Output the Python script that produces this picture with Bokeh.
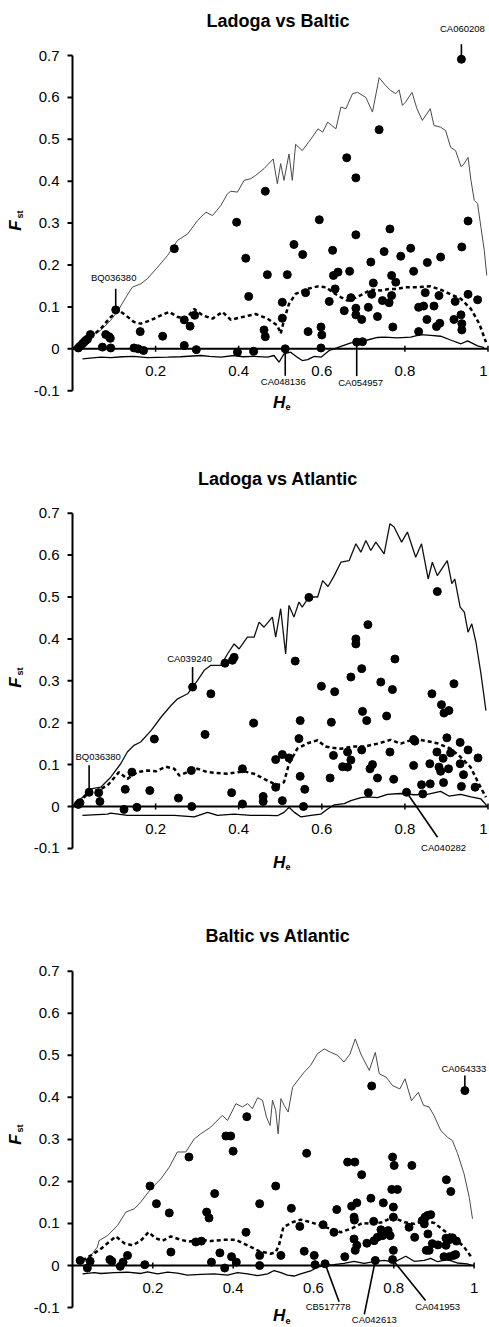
import math
from bokeh.plotting import figure
from bokeh.layouts import column
from bokeh.models import Range1d
from bokeh.core.properties import value
from bokeh.embed import file_html
from bokeh.resources import INLINE

FONT = "Liberation Sans"

TITLES = ["Ladoga vs Baltic", "Ladoga vs Atlantic", "Baltic vs Atlantic"]
Y_TICKS = [-0.1, 0.0, 0.1, 0.2, 0.3, 0.4, 0.5, 0.6, 0.7]
Y_TICK_LABELS = ["-0.1", "0", "0.1", "0.2", "0.3", "0.4", "0.5", "0.6", "0.7"]
X_TICKS = [0.2, 0.4, 0.6, 0.8, 1.0]
X_TICK_LABELS = ["0.2", "0.4", "0.6", "0.8", "1"]

# ---------------- Ladoga vs Baltic ----------------
lb_he = [0.014, 0.018, 0.024, 0.028, 0.032, 0.036, 0.043, 0.072, 0.080, 0.088, 0.091, 0.092,
         0.104, 0.148, 0.158, 0.163, 0.171, 0.217, 0.245, 0.269, 0.269, 0.283, 0.294, 0.298,
         0.395, 0.397, 0.417, 0.424, 0.436, 0.461, 0.464, 0.464, 0.469, 0.505, 0.505, 0.512,
         0.517, 0.533, 0.554, 0.561, 0.567, 0.594, 0.598, 0.600, 0.598, 0.618, 0.626, 0.628,
         0.632, 0.639, 0.654, 0.660, 0.667, 0.670, 0.682, 0.682, 0.682, 0.682, 0.684, 0.696,
         0.698, 0.712, 0.718, 0.720, 0.724, 0.734, 0.738, 0.746, 0.750, 0.762, 0.764, 0.768,
         0.768, 0.771, 0.778, 0.790, 0.814, 0.821, 0.833, 0.833, 0.845, 0.849, 0.853, 0.854,
         0.870, 0.876, 0.882, 0.884, 0.886, 0.918, 0.921, 0.935, 0.936, 0.937, 0.937, 0.937,
         0.952, 0.952, 0.975]
lb_fst = [0.002, 0.006, 0.012, 0.016, 0.020, 0.023, 0.034, 0.004, 0.034, 0.029, 0.025, 0.002,
          0.093, 0.002, 0.000, 0.041, -0.004, 0.030, 0.239, 0.008, 0.069, 0.054, 0.080, -0.002,
          0.302, -0.008, 0.216, 0.125, -0.006, 0.045, 0.029, 0.376, 0.177, 0.111, 0.073, 0.000,
          0.177, 0.249, 0.225, 0.134, 0.041, 0.308, 0.052, 0.033, 0.002, 0.113, 0.235, 0.175,
          0.143, 0.183, 0.091, 0.456, 0.185, 0.122, 0.408, 0.272, 0.097, 0.081, 0.016, 0.070,
          0.017, 0.099, 0.207, 0.130, 0.157, 0.077, 0.523, 0.115, 0.232, 0.110, 0.286, 0.175,
          0.127, 0.052, 0.159, 0.221, 0.240, 0.185, 0.099, 0.041, 0.102, 0.134, 0.070, 0.206,
          0.102, 0.053, 0.127, 0.061, 0.219, 0.070, 0.113, 0.081, 0.691, 0.243, 0.060, 0.045,
          0.305, 0.130, 0.117]
lb_upper_he = [0.000, 0.036, 0.068, 0.092, 0.110, 0.131, 0.144, 0.164, 0.180, 0.205, 0.229, 0.253,
               0.277, 0.301, 0.321, 0.337, 0.357, 0.373, 0.381, 0.397, 0.413, 0.429, 0.441, 0.461,
               0.483, 0.493, 0.501, 0.509, 0.521, 0.529, 0.537, 0.553, 0.574, 0.591, 0.602, 0.614,
               0.634, 0.646, 0.658, 0.674, 0.686, 0.706, 0.722, 0.738, 0.754, 0.766, 0.778, 0.786,
               0.794, 0.802, 0.817, 0.829, 0.842, 0.861, 0.870, 0.886, 0.898, 0.910, 0.922, 0.935,
               0.942, 0.952, 0.959, 0.967, 0.975, 0.983, 0.991, 0.997]
lb_upper_fst = [0.000, 0.028, 0.044, 0.068, 0.092, 0.127, 0.147, 0.155, 0.167, 0.195, 0.223, 0.259,
                0.274, 0.306, 0.326, 0.318, 0.342, 0.370, 0.376, 0.374, 0.402, 0.406, 0.414, 0.430,
                0.453, 0.394, 0.442, 0.402, 0.465, 0.402, 0.488, 0.473, 0.501, 0.525, 0.517, 0.541,
                0.525, 0.577, 0.573, 0.609, 0.612, 0.600, 0.565, 0.647, 0.628, 0.616, 0.609, 0.618,
                0.581, 0.589, 0.612, 0.573, 0.545, 0.573, 0.533, 0.529, 0.521, 0.481, 0.473, 0.435,
                0.441, 0.457, 0.402, 0.354, 0.346, 0.290, 0.235, 0.175]
lb_mid_he = [0.000, 0.020, 0.044, 0.068, 0.092, 0.112, 0.128, 0.148, 0.164, 0.188, 0.213, 0.233,
             0.253, 0.273, 0.293, 0.313, 0.337, 0.361, 0.381, 0.405, 0.441, 0.469, 0.493, 0.501,
             0.509, 0.521, 0.537, 0.566, 0.590, 0.610, 0.626, 0.646, 0.662, 0.682, 0.698, 0.718,
             0.742, 0.762, 0.782, 0.802, 0.830, 0.862, 0.886, 0.910, 0.935, 0.959, 0.979, 0.995]
lb_mid_fst = [0.000, 0.012, 0.028, 0.048, 0.076, 0.091, 0.080, 0.064, 0.060, 0.068, 0.080, 0.088,
              0.076, 0.072, 0.095, 0.080, 0.072, 0.088, 0.069, 0.075, 0.083, 0.072, 0.056, 0.036,
              0.068, 0.107, 0.131, 0.143, 0.149, 0.147, 0.135, 0.123, 0.115, 0.122, 0.130, 0.141,
              0.139, 0.143, 0.143, 0.147, 0.147, 0.149, 0.141, 0.130, 0.119, 0.095, 0.060, 0.016]
lb_lower_he = [0.024, 0.068, 0.092, 0.120, 0.148, 0.180, 0.229, 0.260, 0.309, 0.330, 0.357, 0.389,
               0.410, 0.437, 0.469, 0.485, 0.497, 0.509, 0.525, 0.541, 0.553, 0.566, 0.582, 0.598,
               0.618, 0.630, 0.646, 0.670, 0.690, 0.710, 0.734, 0.750, 0.782, 0.814, 0.838, 0.862,
               0.886, 0.910, 0.935, 0.951, 0.975, 0.991]
lb_lower_fst = [-0.024, -0.020, -0.021, -0.019, -0.018, -0.021, -0.020, -0.019, -0.016, -0.018,
                -0.020, -0.016, -0.019, -0.018, -0.020, -0.016, -0.032, -0.012, -0.008, -0.020,
                -0.028, -0.026, -0.018, -0.020, -0.004, 0.000, 0.006, 0.014, 0.016, 0.021, 0.027,
                0.028, 0.026, 0.028, 0.034, 0.032, 0.030, 0.021, 0.012, 0.019, 0.007, 0.003]
lb_gene_names = ["BQ036380", "CA060208", "CA048136", "CA054957"]
lb_gene_he = [0.104, 0.936, 0.512, 0.684]
lb_gene_fst = [0.093, 0.691, 0.000, 0.016]

# ---------------- Ladoga vs Atlantic ----------------
la_he = [0.014, 0.018, 0.040, 0.063, 0.066, 0.124, 0.127, 0.143, 0.155, 0.186, 0.197, 0.255,
         0.286, 0.287, 0.289, 0.319, 0.333, 0.367, 0.383, 0.385, 0.389, 0.409, 0.409, 0.436,
         0.459, 0.459, 0.489, 0.489, 0.505, 0.505, 0.521, 0.536, 0.545, 0.548, 0.548, 0.556,
         0.559, 0.569, 0.599, 0.620, 0.623, 0.628, 0.631, 0.650, 0.662, 0.662, 0.670, 0.670,
         0.682, 0.682, 0.696, 0.696, 0.698, 0.708, 0.711, 0.712, 0.716, 0.722, 0.734, 0.742,
         0.756, 0.764, 0.770, 0.773, 0.776, 0.804, 0.821, 0.824, 0.821, 0.840, 0.843, 0.860,
         0.861, 0.865, 0.877, 0.878, 0.882, 0.886, 0.888, 0.892, 0.893, 0.894, 0.901, 0.905,
         0.906, 0.910, 0.918, 0.933, 0.933, 0.936, 0.941, 0.952, 0.969, 0.976]
la_fst = [0.005, 0.009, 0.034, 0.033, 0.012, -0.007, 0.041, 0.082, -0.002, 0.038, 0.161, 0.020,
          0.086, 0.000, 0.285, 0.172, 0.269, 0.342, 0.033, 0.349, 0.356, 0.090, 0.006, 0.199,
          0.024, 0.012, 0.112, 0.046, 0.124, 0.014, 0.116, 0.347, 0.162, 0.205, 0.072, 0.000,
          0.041, 0.499, 0.287, 0.068, 0.201, 0.122, 0.274, 0.095, 0.094, 0.130, 0.309, 0.111,
          0.400, 0.388, 0.329, 0.135, 0.227, 0.205, 0.434, 0.033, 0.090, 0.100, 0.068, 0.297,
          0.216, 0.130, 0.279, 0.065, 0.352, 0.034, 0.160, 0.156, 0.098, 0.052, 0.030, 0.102,
          0.054, 0.269, 0.130, 0.513, 0.094, 0.084, 0.243, 0.115, 0.057, 0.223, 0.164, 0.090,
          0.229, 0.128, 0.293, 0.153, 0.102, 0.048, 0.076, 0.135, 0.046, 0.116]
la_upper_he = [0.000, 0.020, 0.044, 0.068, 0.092, 0.116, 0.132, 0.148, 0.164, 0.189, 0.213, 0.237,
               0.253, 0.277, 0.301, 0.317, 0.333, 0.357, 0.373, 0.389, 0.401, 0.421, 0.437, 0.449,
               0.461, 0.481, 0.489, 0.501, 0.513, 0.521, 0.533, 0.545, 0.553, 0.569, 0.590, 0.602,
               0.615, 0.630, 0.646, 0.666, 0.682, 0.694, 0.706, 0.718, 0.730, 0.750, 0.764, 0.774,
               0.792, 0.806, 0.826, 0.840, 0.856, 0.866, 0.878, 0.902, 0.913, 0.920, 0.933, 0.943,
               0.952, 0.961, 0.971, 0.983, 0.995]
la_upper_fst = [0.000, 0.018, 0.042, 0.046, 0.070, 0.102, 0.130, 0.146, 0.154, 0.181, 0.213, 0.241,
                0.257, 0.269, 0.301, 0.325, 0.337, 0.337, 0.364, 0.388, 0.376, 0.404, 0.404, 0.440,
                0.428, 0.452, 0.404, 0.472, 0.364, 0.480, 0.452, 0.488, 0.476, 0.500, 0.500, 0.539,
                0.525, 0.551, 0.583, 0.587, 0.627, 0.607, 0.635, 0.611, 0.631, 0.603, 0.675, 0.667,
                0.631, 0.655, 0.595, 0.627, 0.543, 0.583, 0.551, 0.587, 0.532, 0.543, 0.476, 0.464,
                0.416, 0.436, 0.392, 0.317, 0.229]
la_mid_he = [0.000, 0.020, 0.040, 0.060, 0.084, 0.112, 0.132, 0.156, 0.180, 0.201, 0.225, 0.245,
             0.257, 0.277, 0.301, 0.325, 0.349, 0.373, 0.397, 0.413, 0.437, 0.469, 0.493, 0.509,
             0.521, 0.541, 0.566, 0.590, 0.609, 0.626, 0.646, 0.674, 0.702, 0.734, 0.766, 0.790,
             0.822, 0.854, 0.878, 0.910, 0.934, 0.958, 0.978, 0.995]
la_mid_fst = [0.000, 0.014, 0.034, 0.038, 0.050, 0.082, 0.066, 0.082, 0.086, 0.084, 0.095, 0.090,
              0.074, 0.082, 0.090, 0.082, 0.080, 0.078, 0.082, 0.084, 0.078, 0.062, 0.050, 0.058,
              0.102, 0.138, 0.151, 0.158, 0.143, 0.140, 0.138, 0.143, 0.143, 0.150, 0.159, 0.150,
              0.161, 0.156, 0.151, 0.138, 0.118, 0.094, 0.054, 0.022]
la_lower_he = [0.024, 0.084, 0.092, 0.132, 0.189, 0.245, 0.293, 0.325, 0.349, 0.389, 0.429, 0.469,
               0.493, 0.509, 0.521, 0.534, 0.550, 0.574, 0.598, 0.614, 0.630, 0.654, 0.670, 0.694,
               0.710, 0.734, 0.758, 0.790, 0.822, 0.854, 0.886, 0.906, 0.934, 0.959, 0.983, 0.997]
la_lower_fst = [-0.021, -0.018, -0.016, -0.021, -0.021, -0.021, -0.025, -0.014, -0.021, -0.018,
                -0.021, -0.021, -0.022, -0.014, -0.002, -0.014, -0.025, -0.021, -0.018, -0.006,
                0.004, 0.007, 0.014, 0.021, 0.023, 0.021, 0.029, 0.031, 0.028, 0.029, 0.036, 0.025,
                0.029, 0.023, 0.018, 0.002]
la_gene_names = ["CA039240", "BQ036380", "CA040282"]
la_gene_he = [0.289, 0.040, 0.804]
la_gene_fst = [0.285, 0.034, 0.034]

# ---------------- Baltic vs Atlantic ----------------
ba_he = [0.019, 0.037, 0.044, 0.093, 0.098, 0.119, 0.126, 0.137, 0.180, 0.193, 0.209, 0.241,
         0.245, 0.290, 0.307, 0.321, 0.334, 0.340, 0.346, 0.354, 0.367, 0.379, 0.382, 0.394,
         0.396, 0.400, 0.408, 0.432, 0.434, 0.466, 0.466, 0.466, 0.506, 0.519, 0.545, 0.566,
         0.577, 0.583, 0.602, 0.604, 0.624, 0.629, 0.651, 0.658, 0.678, 0.685, 0.695, 0.701,
         0.702, 0.701, 0.703, 0.704, 0.708, 0.708, 0.720, 0.733, 0.743, 0.745, 0.750, 0.751,
         0.754, 0.759, 0.768, 0.772, 0.774, 0.780, 0.786, 0.791, 0.795, 0.797, 0.797, 0.799,
         0.799, 0.799, 0.801, 0.809, 0.838, 0.845, 0.852, 0.871, 0.876, 0.878, 0.884, 0.885,
         0.881, 0.888, 0.892, 0.896, 0.910, 0.925, 0.930, 0.930, 0.931, 0.938, 0.938, 0.942,
         0.946, 0.949, 0.954, 0.956, 0.977]
ba_fst = [0.012, -0.006, 0.010, 0.014, 0.010, -0.002, 0.008, 0.024, 0.002, 0.189, 0.147, 0.125,
          0.032, 0.258, 0.056, 0.058, 0.127, 0.113, 0.008, 0.171, 0.030, -0.006, 0.308, 0.308,
          0.021, 0.272, 0.008, 0.079, 0.354, 0.147, 0.024, 0.000, 0.189, 0.024, 0.136, 0.093,
          0.034, 0.267, 0.024, 0.002, 0.097, 0.004, 0.079, 0.133, 0.021, 0.246, 0.141, 0.115,
          0.108, 0.063, 0.246, 0.036, 0.048, 0.149, 0.216, 0.053, 0.160, 0.427, 0.105, 0.059,
          0.012, 0.067, 0.085, 0.071, 0.149, 0.079, 0.083, 0.071, 0.181, 0.258, 0.014, 0.139,
          0.115, 0.036, 0.238, 0.181, 0.091, 0.238, 0.067, 0.107, 0.099, 0.115, 0.119, 0.075,
          0.036, 0.036, 0.121, 0.052, 0.049, 0.021, 0.065, 0.048, 0.204, 0.061, 0.021, 0.176,
          0.066, 0.024, 0.026, 0.058, 0.416]
ba_upper_he = [0.025, 0.046, 0.062, 0.066, 0.087, 0.112, 0.133, 0.154, 0.170, 0.195, 0.220, 0.241,
               0.261, 0.282, 0.303, 0.319, 0.344, 0.373, 0.386, 0.407, 0.423, 0.436, 0.448, 0.461,
               0.473, 0.483, 0.492, 0.498, 0.506, 0.512, 0.519, 0.527, 0.537, 0.548, 0.564, 0.577,
               0.593, 0.610, 0.627, 0.643, 0.660, 0.676, 0.691, 0.704, 0.718, 0.739, 0.754, 0.764,
               0.781, 0.797, 0.815, 0.828, 0.844, 0.861, 0.874, 0.888, 0.900, 0.917, 0.934, 0.946,
               0.959, 0.975, 0.988, 0.996]
ba_upper_fst = [0.004, 0.024, 0.044, 0.059, 0.071, 0.095, 0.127, 0.135, 0.151, 0.182, 0.206, 0.234,
                0.270, 0.270, 0.301, 0.313, 0.329, 0.357, 0.345, 0.385, 0.377, 0.385, 0.373, 0.399,
                0.393, 0.353, 0.333, 0.393, 0.369, 0.313, 0.397, 0.381, 0.365, 0.424, 0.444, 0.460,
                0.476, 0.504, 0.515, 0.507, 0.500, 0.484, 0.503, 0.539, 0.503, 0.464, 0.507, 0.456,
                0.448, 0.428, 0.420, 0.444, 0.392, 0.412, 0.381, 0.377, 0.357, 0.321, 0.305, 0.297,
                0.266, 0.218, 0.162, 0.111]
ba_mid_he = [0.025, 0.046, 0.071, 0.091, 0.108, 0.129, 0.149, 0.170, 0.189, 0.207, 0.224, 0.245,
             0.270, 0.290, 0.320, 0.344, 0.378, 0.407, 0.436, 0.465, 0.494, 0.506, 0.514, 0.525,
             0.548, 0.568, 0.593, 0.618, 0.643, 0.668, 0.697, 0.722, 0.747, 0.772, 0.797, 0.826,
             0.851, 0.876, 0.901, 0.925, 0.950, 0.975, 0.996]
ba_mid_fst = [0.012, 0.024, 0.040, 0.056, 0.069, 0.053, 0.048, 0.059, 0.079, 0.065, 0.059, 0.069,
              0.061, 0.057, 0.061, 0.058, 0.061, 0.061, 0.048, 0.034, 0.028, 0.032, 0.048, 0.091,
              0.103, 0.109, 0.103, 0.095, 0.087, 0.079, 0.089, 0.101, 0.099, 0.103, 0.115, 0.103,
              0.099, 0.107, 0.101, 0.083, 0.067, 0.044, 0.016]
ba_lower_he = [0.025, 0.054, 0.071, 0.104, 0.137, 0.170, 0.187, 0.212, 0.237, 0.261, 0.286, 0.320,
               0.353, 0.386, 0.411, 0.436, 0.461, 0.486, 0.502, 0.519, 0.535, 0.552, 0.568, 0.593,
               0.610, 0.627, 0.651, 0.676, 0.701, 0.726, 0.751, 0.776, 0.801, 0.830, 0.851, 0.876,
               0.892, 0.909, 0.934, 0.958, 0.983, 0.996]
ba_lower_fst = [-0.020, -0.017, -0.019, -0.017, -0.016, -0.019, -0.015, -0.020, -0.016, -0.018,
                -0.023, -0.021, -0.020, -0.023, -0.017, -0.020, -0.024, -0.020, -0.012, -0.017,
                -0.023, -0.025, -0.020, -0.013, -0.004, 0.000, 0.002, 0.005, 0.010, 0.005, 0.009,
                0.012, 0.008, 0.022, 0.010, 0.012, 0.017, 0.009, 0.014, 0.006, 0.004, 0.000]
ba_gene_names = ["CA064333", "CB517778", "CA042613", "CA041953"]
ba_gene_he = [0.977, 0.629, 0.754, 0.797]
ba_gene_fst = [0.416, 0.004, 0.012, 0.014]

# ---------------- layout of each panel (pixels) ----------------
AXIS_X = 72          # canvas x of He = 0
CANVAS_W = 489

panels = [
    dict(title=TITLES[0], he=lb_he, fst=lb_fst,
         upper=(lb_upper_he, lb_upper_fst), mid=(lb_mid_he, lb_mid_fst), lower=(lb_lower_he, lb_lower_fst),
         genes=(lb_gene_names, lb_gene_he, lb_gene_fst),
         # text offset (dx, dy) and leader end (dx, dy), screen pixels, y down
         gene_style=[((-2, -32), (0, -21)), ((1, -31), (0, -15)), ((-2, 33), (0, 27)), ((4, 40), (0, 34))],
         height=457, zero=348.3, sx=415.5, sy=419.0, upper_color="#4a4a4a", upper_width=1.0,
         title_y=20, he_y=401.7),
    dict(title=TITLES[1], he=la_he, fst=la_fst,
         upper=(la_upper_he, la_upper_fst), mid=(la_mid_he, la_mid_fst), lower=(la_lower_he, la_lower_fst),
         genes=(la_gene_names, la_gene_he, la_gene_fst),
         gene_style=[((-3, -29), (0, -20)), ((9, -36), (0, -27)), ((37, 55), (31, 45))],
         height=457, zero=349.0, sx=415.5, sy=419.0, upper_color="#111111", upper_width=1.3,
         title_y=21, he_y=404.7),
    dict(title=TITLES[2], he=ba_he, fst=ba_fst,
         upper=(ba_upper_he, ba_upper_fst), mid=(ba_mid_he, ba_mid_fst), lower=(ba_lower_he, ba_lower_fst),
         genes=(ba_gene_names, ba_gene_he, ba_gene_fst),
         gene_style=[((-1, -22), (0, -15)), ((3, 43), (14, 38)), ((-1, 59), (-11, 54)), ((45, 47), (33, 41))],
         height=413, zero=351.0, sx=401.6, sy=420.4, upper_color="#4a4a4a", upper_width=1.0,
         title_y=21, he_y=401.0),
]


def make_panel(cfg):
    h, zero, sx, sy = cfg["height"], cfg["zero"], cfg["sx"], cfg["sy"]
    p = figure(width=CANVAS_W, height=h, output_backend="svg", toolbar_location=None,
               x_range=Range1d(-AXIS_X / sx, (CANVAS_W - AXIS_X) / sx),
               y_range=Range1d(-(h - zero) / sy, zero / sy),
               x_axis_location=None, y_axis_location=None,
               min_border_left=0, min_border_right=0, min_border_top=0, min_border_bottom=0)
    p.outline_line_color = None
    p.xgrid.visible = False
    p.ygrid.visible = False
    p.background_fill_color = "white"
    p.border_fill_color = "white"

    def dy_px(px):
        return -px / sy

    def dx_px(px):
        return px / sx

    txt = dict(text_font=value(FONT), text_color="black", text_align="center", text_baseline="middle")

    # Fst axis at He = 0
    n_y = len(Y_TICKS)
    p.segment(x0=[0], y0=[Y_TICKS[0]], x1=[0], y1=[Y_TICKS[-1]], line_color="black", line_width=2)
    p.segment(x0=[dx_px(-5)] * n_y, y0=Y_TICKS, x1=[0] * n_y, y1=Y_TICKS,
              line_color="black", line_width=2)
    p.text(x=[dx_px(-13)] * n_y, y=Y_TICKS, text=Y_TICK_LABELS, text_font=value(FONT),
           text_font_size=value("15px"), text_color="black", text_align="right",
           text_baseline="middle")

    # He axis drawn along Fst = 0
    n_x = len(X_TICKS)
    p.segment(x0=[0], y0=[0], x1=[X_TICKS[-1]], y1=[0], line_color="black", line_width=2)
    p.segment(x0=X_TICKS, y0=[dy_px(-3)] * n_x, x1=X_TICKS, y1=[dy_px(3)] * n_x,
              line_color="black", line_width=1.5)
    # keep the last label inside the canvas
    edge = (CANVAS_W - 6 - AXIS_X) / sx
    label_x = [min(t, edge) for t in X_TICKS]
    p.text(x=label_x, y=[dy_px(22)] * n_x, text=X_TICK_LABELS, text_font_size=value("15px"), **txt)

    # simulated quantile envelopes
    ux, uy = cfg["upper"]
    mx, my = cfg["mid"]
    lx, ly = cfg["lower"]
    p.line(ux, uy, line_color=cfg["upper_color"], line_width=cfg["upper_width"])
    p.line(lx, ly, line_color="black", line_width=1.3)
    p.line(mx, my, line_color="black", line_width=2.5, line_dash="4 3")

    # leader lines for named loci
    names, ghe, gfst = cfg["genes"]
    style = cfg["gene_style"]
    x1 = [g + dx_px(s[1][0]) for g, s in zip(ghe, style)]
    y1 = [f + dy_px(s[1][1]) for f, s in zip(gfst, style)]
    p.segment(x0=list(ghe), y0=list(gfst), x1=x1, y1=y1, line_color="black", line_width=1.6)

    # loci
    p.scatter(cfg["he"], cfg["fst"], size=8, color="black")

    tx = [g + dx_px(s[0][0]) for g, s in zip(ghe, style)]
    ty = [f + dy_px(s[0][1]) for f, s in zip(gfst, style)]
    p.text(x=tx, y=ty, text=list(names), text_font_size=value("9.5px"), **txt)

    # panel title
    mid_x = dx_px((CANVAS_W - AXIS_X) / 2 - 3)
    p.text(x=[mid_x], y=[dy_px(cfg["title_y"] - zero)], text=[cfg["title"]],
           text_font_size=value("18px"), text_font_style="bold", **txt)

    # He axis title (H with subscript e)
    hx = dx_px(206.6)
    p.text(x=[hx], y=[dy_px(cfg["he_y"] - zero)], text=["H"],
           text_font_size=value("17px"), text_font_style="bold italic", **txt)
    p.text(x=[hx + dx_px(9)], y=[dy_px(cfg["he_y"] - zero + 5)], text=["e"],
           text_font_size=value("9px"), text_font_style="bold", **txt)

    # Fst axis title (F with subscript st), reading upwards
    fy = dy_px(225 - zero)
    p.text(x=[dx_px(-57)], y=[fy], text=["F"], angle=math.pi / 2,
           text_font_size=value("17px"), text_font_style="bold italic", **txt)
    p.text(x=[dx_px(-53)], y=[fy + dy_px(-11)], text=["st"], angle=math.pi / 2,
           text_font_size=value("9px"), text_font_style="bold", **txt)
    return p


figs = [make_panel(c) for c in panels]
layout = column(*figs, spacing=0)
open("out.html", "w").write(file_html(layout, INLINE))
